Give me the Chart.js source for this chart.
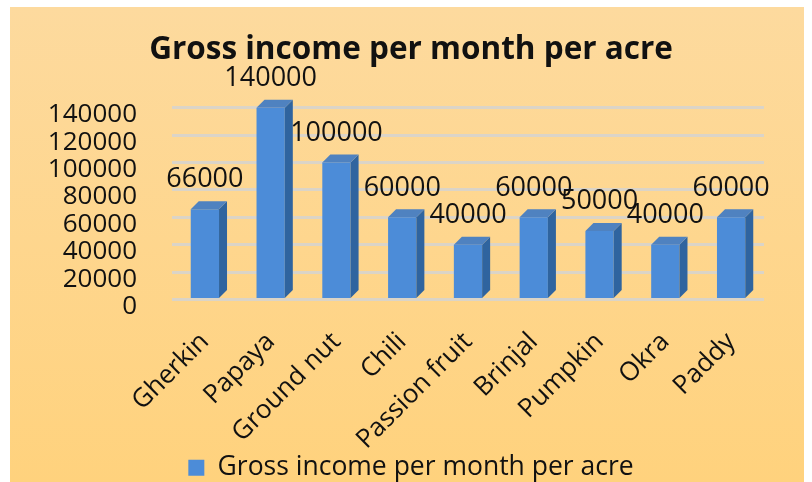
<!DOCTYPE html>
<html>
<head>
<meta charset="utf-8">
<script src="https://cdn.jsdelivr.net/npm/chart.js@4"></script>
<style>
  html, body { margin: 0; padding: 0; background: #fff; }
  #wrap { width: 812px; height: 482px; }
</style>
</head>
<body>
<div id="wrap"><canvas id="myChart" width="812" height="482"></canvas></div>
<script>
var cultivos = ['Gherkin', 'Papaya', 'Ground nut', 'Chili', 'Passion fruit', 'Brinjal', 'Pumpkin', 'Okra', 'Paddy'];
var ingresos = [66000, 140000, 100000, 60000, 40000, 60000, 50000, 40000, 60000];
var serieNombre = 'Gross income per month per acre';
var tituloTexto = 'Gross income per month per acre';

var fuente = '"Open Sans", Lato, sans-serif';

// fondo naranja con borde blanco
var fondo = {
    id: 'fondo',
    beforeDraw: function (chart) {
        var ctx = chart.ctx;
        ctx.save();
        ctx.fillStyle = '#ffffff';
        ctx.fillRect(0, 0, chart.width, chart.height);
        var g = ctx.createLinearGradient(0, 7, 0, chart.height);
        g.addColorStop(0, '#FDDA9E');
        g.addColorStop(1, '#FFD27D');
        ctx.fillStyle = g;
        ctx.fillRect(10, 7, chart.width - 18, chart.height - 7);
        ctx.restore();
    }
};

// caras laterales y superiores para el efecto 3D, y etiquetas de valor
var barras3d = {
    id: 'barras3d',
    afterDatasetsDraw: function (chart) {
        var ctx = chart.ctx;
        var meta = chart.getDatasetMeta(0);
        var d = 8;
        ctx.save();
        meta.data.forEach(function (bar, i) {
            var w = bar.width;
            var x0 = bar.x - w / 2, x1 = bar.x + w / 2;
            var top = bar.y, base = bar.base;
            // lado
            ctx.fillStyle = '#2F649F';
            ctx.beginPath();
            ctx.moveTo(x1, top);
            ctx.lineTo(x1 + d, top - d);
            ctx.lineTo(x1 + d, base - d);
            ctx.lineTo(x1, base);
            ctx.closePath();
            ctx.fill();
            // tapa
            ctx.fillStyle = '#4F82C0';
            ctx.beginPath();
            ctx.moveTo(x0, top);
            ctx.lineTo(x0 + d, top - d);
            ctx.lineTo(x1 + d, top - d);
            ctx.lineTo(x1, top);
            ctx.closePath();
            ctx.fill();
            // etiqueta
            ctx.fillStyle = '#111111';
            ctx.font = '27px ' + fuente;
            ctx.textAlign = 'center';
            ctx.textBaseline = 'bottom';
            ctx.fillText(String(ingresos[i]), bar.x, top - 16);
        });
        ctx.restore();
    }
};

var canvas = document.getElementById('myChart');
var ctx = canvas.getContext('2d');

var data = {
    labels: cultivos,
    datasets: [{
        label: serieNombre,
        data: ingresos,
        backgroundColor: '#4C8CD8',
        borderWidth: 0,
        barPercentage: 0.5,
        categoryPercentage: 0.86
    }]
};

var options = {
    responsive: false,
    animation: false,
    layout: { padding: { left: 10, right: 0, top: 8, bottom: -9 } },
    plugins: {
        title: {
            display: true,
            text: tituloTexto,
            color: '#111111',
            font: { family: fuente, size: 31.5, weight: 'bold' },
            padding: { top: 23, bottom: 39 }
        },
        legend: {
            position: 'bottom',
            labels: {
                color: '#111111',
                font: { family: fuente, size: 26.5 },
                boxWidth: 16,
                boxHeight: 16,
                padding: 4
            }
        },
        tooltip: { enabled: false }
    },
    scales: {
        x: {
            grid: { display: false },
            border: { display: false },
            ticks: {
                color: '#111111',
                font: { family: fuente, size: 26 },
                maxRotation: 45,
                minRotation: 45,
                padding: 19
            },
            afterFit: function (scale) { scale.height = 151; }
        },
        y: {
            min: 0,
            max: 140000,
            grid: { color: 'rgba(215,212,205,0.9)', lineWidth: 3, drawTicks: false },
            border: { display: false },
            ticks: {
                stepSize: 20000,
                autoSkip: false,
                color: '#111111',
                font: { family: fuente, size: 26 },
                padding: 35,
                labelOffset: 7,
                callback: function (v) { return String(v); }
            },
            afterFit: function (scale) { scale.width = 162; }
        },
        derecha: {
            position: 'right',
            grid: { display: false },
            border: { display: false },
            ticks: { display: false },
            afterFit: function (scale) { scale.width = 48; }
        }
    }
};

var myChart = new Chart(ctx, {
    type: 'bar',
    data: data,
    options: options,
    plugins: [fondo, barras3d]
});
</script>
</body>
</html>
